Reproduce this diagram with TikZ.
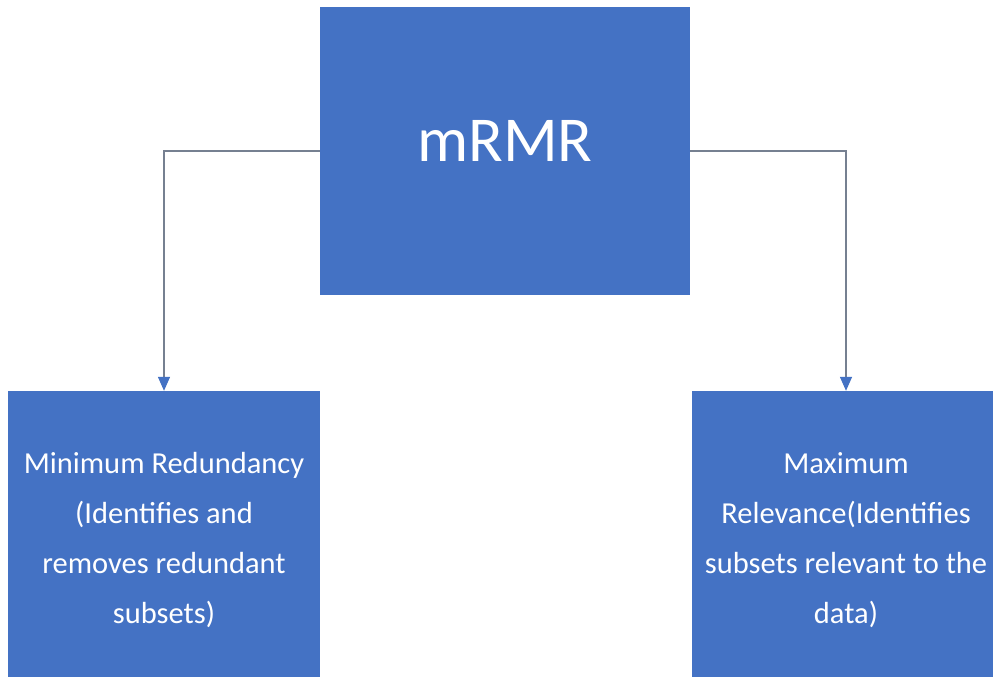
\documentclass[tikz,border=0pt]{standalone}
\usepackage{fontspec}
\setmainfont{Carlito}
\usetikzlibrary{arrows.meta}
\definecolor{boxblue}{RGB}{68,114,196}
\definecolor{linegray}{RGB}{118,128,145}
\begin{document}
\begin{tikzpicture}[x=1pt,y=-1pt,
  box/.style={rectangle, fill=boxblue, draw=none, text=white, align=center, inner sep=0pt},
  link/.style={draw=linegray, line width=1.4pt,
    -{Triangle[length=14pt,width=12pt,fill=boxblue,color=boxblue]}}]
\useasboundingbox (0,0) rectangle (993,677);
\clip (0,0) rectangle (993,677);
\fill[white] (0,0) rectangle (993,677);

% root box
\node[box, minimum width=370pt, minimum height=288pt,
      font=\fontsize{64}{70}\selectfont] (top) at (505,151) {\raisebox{20pt}{mRMR}};

% the two criteria
\node[box, minimum width=312pt, minimum height=298pt,
      font=\fontsize{30.5}{50}\selectfont] (left) at (164,540)
  {Minimum Redundancy\\(Identifies and\\removes redundant\\subsets)};
\node[box, minimum width=308pt, minimum height=298pt,
      font=\fontsize{30.5}{50}\selectfont] (right) at (846,540)
  {Maximum\\Relevance(Identifies\\subsets relevant to the\\data)};

% connectors
\draw[link] (top.west) -| (left.north);
\draw[link] (top.east) -| (right.north);
\end{tikzpicture}
\end{document}
